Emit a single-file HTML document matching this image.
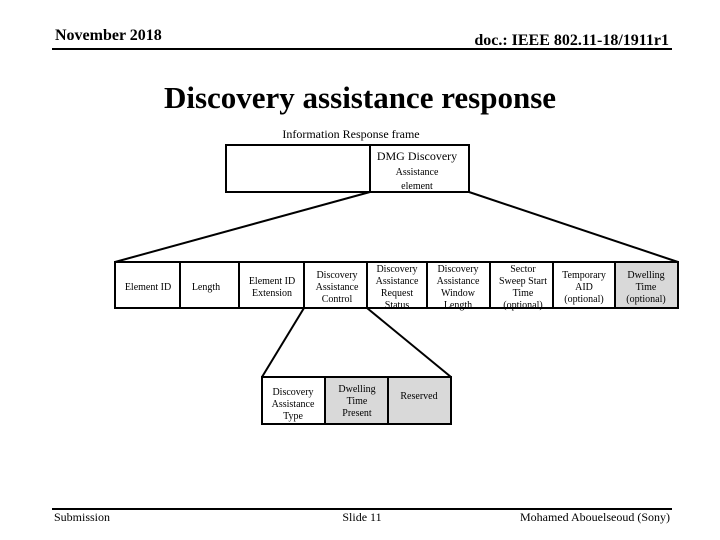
<!DOCTYPE html>
<html><head><meta charset="utf-8"><style>
html,body{margin:0;padding:0;background:#fff;}
svg{display:block;font-family:"Liberation Serif",serif;}
</style></head><body>
<svg width="720" height="540" viewBox="0 0 720 540" xmlns="http://www.w3.org/2000/svg">
<text x="55" y="40" font-size="16" font-weight="bold">November 2018</text>
<text x="669" y="45" font-size="16" font-weight="bold" text-anchor="end">doc.: IEEE 802.11-18/1911r1</text>
<line x1="52" y1="49" x2="672" y2="49" stroke="#000" stroke-width="2"/>
<text x="360" y="108" font-size="31" font-weight="bold" text-anchor="middle">Discovery assistance response</text>
<text x="351" y="138" font-size="12" text-anchor="middle">Information Response frame</text>
<g stroke="#000" stroke-width="2" fill="none">
<rect x="226" y="145" width="243" height="47" fill="#fff"/>
<line x1="370" y1="145" x2="370" y2="192"/>
<line x1="370" y1="192" x2="115" y2="262"/>
<line x1="469" y1="192" x2="678" y2="262"/>
<rect x="615" y="262" width="63" height="46" fill="#d9d9d9"/>
<rect x="115" y="262" width="563" height="46"/>
<line x1="180" y1="262" x2="180" y2="308"/>
<line x1="239" y1="262" x2="239" y2="308"/>
<line x1="304" y1="262" x2="304" y2="308"/>
<line x1="367" y1="262" x2="367" y2="308"/>
<line x1="427" y1="262" x2="427" y2="308"/>
<line x1="490" y1="262" x2="490" y2="308"/>
<line x1="553" y1="262" x2="553" y2="308"/>
<line x1="615" y1="262" x2="615" y2="308"/>
<line x1="304" y1="308" x2="262" y2="377"/>
<line x1="367" y1="308" x2="451" y2="377"/>
<rect x="325" y="377" width="126" height="47" fill="#d9d9d9"/>
<rect x="262" y="377" width="189" height="47"/>
<line x1="325" y1="377" x2="325" y2="424"/>
<line x1="388" y1="377" x2="388" y2="424"/>
</g>
<g font-size="10" text-anchor="middle">
<text x="417" y="160" font-size="12">DMG Discovery</text>
<text x="417" y="175">Assistance</text>
<text x="417" y="189">element</text>
<text x="148" y="290">Element ID</text>
<text x="206" y="290">Length</text>
<text x="272" y="284">Element ID</text><text x="272" y="296">Extension</text>
<text x="337" y="278">Discovery</text><text x="337" y="290">Assistance</text><text x="337" y="302">Control</text>
<text x="397" y="272">Discovery</text><text x="397" y="284">Assistance</text><text x="397" y="296">Request</text><text x="397" y="308">Status</text>
<text x="458" y="272">Discovery</text><text x="458" y="284">Assistance</text><text x="458" y="296">Window</text><text x="458" y="308">Length</text>
<text x="523" y="272">Sector</text><text x="523" y="284">Sweep Start</text><text x="523" y="296">Time</text><text x="523" y="308">(optional)</text>
<text x="584" y="278">Temporary</text><text x="584" y="290">AID</text><text x="584" y="302">(optional)</text>
<text x="646" y="278">Dwelling</text><text x="646" y="290">Time</text><text x="646" y="302">(optional)</text>
<text x="293" y="395">Discovery</text><text x="293" y="407">Assistance</text><text x="293" y="419">Type</text>
<text x="357" y="392">Dwelling</text><text x="357" y="404">Time</text><text x="357" y="416">Present</text>
<text x="419" y="399">Reserved</text>
</g>
<line x1="52" y1="509" x2="672" y2="509" stroke="#000" stroke-width="2"/>
<g font-size="12">
<text x="54" y="521">Submission</text>
<text x="362" y="521" text-anchor="middle">Slide 11</text>
<text x="670" y="521" text-anchor="end">Mohamed Abouelseoud (Sony)</text>
</g>
</svg>
</body></html>
